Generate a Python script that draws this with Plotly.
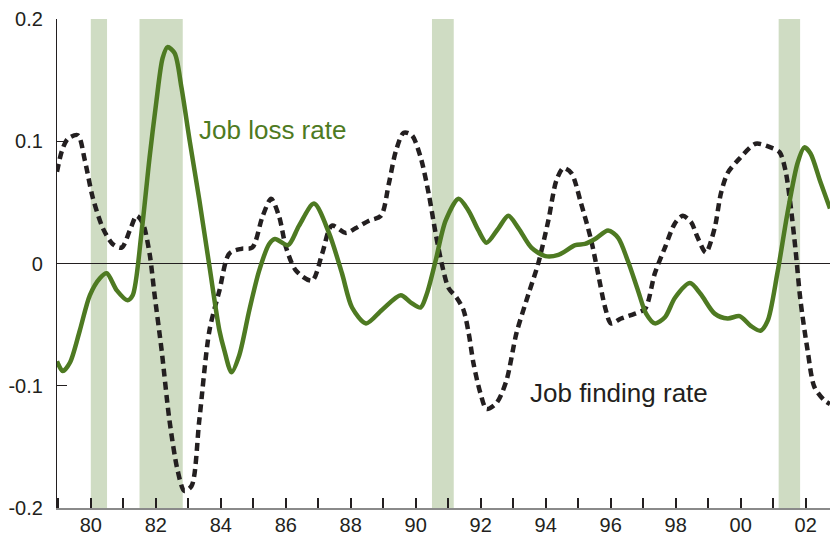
import plotly.graph_objects as go

# Job loss rate (green, solid)
loss_years = [1978.96, 1979.14, 1979.36, 1979.66, 1979.97, 1980.28, 1980.49, 1980.80, 1981.13, 1981.29,
              1981.56, 1981.81, 1982.02, 1982.21, 1982.36, 1982.58, 1982.79, 1983.04, 1983.34, 1983.65,
              1983.96, 1984.11, 1984.33, 1984.57, 1984.88, 1985.18, 1985.49, 1985.67, 1986.07, 1986.41,
              1986.87, 1987.33, 1987.73, 1988.04, 1988.47, 1988.96, 1989.54, 1989.85, 1990.15, 1990.34,
              1990.61, 1990.92, 1991.32, 1991.63, 1991.93, 1992.18, 1992.55, 1992.85, 1993.16, 1993.56,
              1993.99, 1994.39, 1994.91, 1995.21, 1995.52, 1995.92, 1996.23, 1996.53, 1996.84, 1997.09,
              1997.36, 1997.67, 1997.98, 1998.44, 1998.77, 1999.20, 1999.60, 1999.97, 2000.31, 2000.61,
              2000.83, 2001.13, 2001.44, 2001.75, 2001.96, 2002.15, 2002.45, 2002.75]
loss_values = [-0.080, -0.088, -0.081, -0.055, -0.026, -0.012, -0.008, -0.022, -0.030, -0.026,
               0.025, 0.087, 0.133, 0.168, 0.177, 0.172, 0.144, 0.101, 0.052, -0.002,
               -0.055, -0.071, -0.089, -0.075, -0.038, -0.006, 0.016, 0.020, 0.015, 0.031,
               0.049, 0.025, -0.008, -0.036, -0.049, -0.038, -0.026, -0.032, -0.036, -0.025,
               0.002, 0.035, 0.053, 0.043, 0.027, 0.017, 0.029, 0.039, 0.029, 0.013,
               0.006, 0.007, 0.015, 0.016, 0.020, 0.027, 0.021, 0.002, -0.022, -0.041,
               -0.049, -0.044, -0.028, -0.016, -0.025, -0.041, -0.045, -0.043, -0.051, -0.055,
               -0.047, -0.008, 0.041, 0.082, 0.095, 0.090, 0.067, 0.045]

# Job finding rate (black, dashed)
find_years = [1978.96, 1979.11, 1979.29, 1979.60, 1979.82, 1980.06, 1980.37, 1980.67, 1980.95, 1981.20,
              1981.41, 1981.60, 1981.81, 1981.96, 1982.18, 1982.42, 1982.67, 1982.88, 1983.10, 1983.34,
              1983.65, 1983.96, 1984.26, 1984.63, 1984.97, 1985.28, 1985.55, 1985.80, 1986.01, 1986.32,
              1986.81, 1987.12, 1987.42, 1987.85, 1988.16, 1988.56, 1988.93, 1989.17, 1989.39, 1989.63,
              1989.88, 1990.15, 1990.40, 1990.61, 1990.80, 1991.01, 1991.26, 1991.47, 1991.63, 1991.78,
              1991.99, 1992.18, 1992.49, 1992.79, 1993.10, 1993.47, 1993.77, 1994.08, 1994.33, 1994.54,
              1994.79, 1995.09, 1995.40, 1995.61, 1995.83, 1996.01, 1996.32, 1996.75, 1997.06, 1997.36,
              1997.67, 1997.98, 1998.22, 1998.47, 1998.68, 1998.93, 1999.20, 1999.39, 1999.60, 1999.97,
              2000.46, 2000.92, 2001.20, 2001.38, 2001.53, 2001.69, 2001.84, 2002.06, 2002.27, 2002.58,
              2002.75]
find_values = [0.075, 0.092, 0.102, 0.105, 0.084, 0.054, 0.029, 0.016, 0.013, 0.027,
               0.039, 0.033, 0.008, -0.025, -0.071, -0.128, -0.169, -0.186, -0.182, -0.128,
               -0.055, -0.022, 0.008, 0.012, 0.013, 0.038, 0.053, 0.038, 0.013, -0.006,
               -0.014, 0.008, 0.031, 0.025, 0.029, 0.035, 0.039, 0.065, 0.092, 0.107,
               0.105, 0.087, 0.057, 0.025, 0.000, -0.020, -0.028, -0.038, -0.057, -0.082,
               -0.106, -0.119, -0.114, -0.096, -0.057, -0.025, 0.000, 0.035, 0.068, 0.078,
               0.074, 0.049, 0.019, -0.008, -0.036, -0.049, -0.045, -0.041, -0.037, -0.008,
               0.013, 0.033, 0.039, 0.034, 0.021, 0.009, 0.029, 0.057, 0.074, 0.086,
               0.098, 0.095, 0.091, 0.076, 0.049, 0.011, -0.030, -0.071, -0.101, -0.112,
               -0.115]

# Recessions (start, end)
rec_start = [1980.0, 1981.5, 1990.5, 2001.17]
rec_end = [1980.5, 1982.83, 1991.17, 2001.83]

tick_years = [1980, 1982, 1984, 1986, 1988, 1990, 1992, 1994, 1996, 1998, 2000, 2002]
tick_labels = ["80", "82", "84", "86", "88", "90", "92", "94", "96", "98", "00", "02"]
y_ticks = [-0.2, -0.1, 0, 0.1, 0.2]
y_labels = ["-0.2", "-0.1", "0", "0.1", "0.2"]

GREEN = "#4e7a22"
SHADE = "#cfdcc3"
INK = "#231f20"
FONT = "Liberation Sans, Arial, sans-serif"

fig = go.Figure()
fig.add_trace(go.Scatter(x=find_years, y=find_values, mode="lines",
                         line=dict(color=INK, width=4.5, dash="8px,5px", shape="spline", smoothing=0.8),
                         showlegend=False, hoverinfo="skip"))
fig.add_trace(go.Scatter(x=loss_years, y=loss_values, mode="lines",
                         line=dict(color=GREEN, width=4.5, shape="spline", smoothing=0.8),
                         showlegend=False, hoverinfo="skip"))

shapes = []
for s, e in zip(rec_start, rec_end):
    shapes.append(dict(type="rect", xref="x", yref="paper", x0=s, x1=e, y0=0, y1=1,
                       fillcolor=SHADE, line=dict(width=0), layer="below"))

fig.update_layout(
    width=830, height=540,
    margin=dict(l=57, r=0, t=19, b=32, autoexpand=False),
    paper_bgcolor="white", plot_bgcolor="white",
    font=dict(family=FONT, size=20, color=INK),
    shapes=shapes,
    annotations=[
        dict(x=1983.28, y=0.109, xref="x", yref="y", text="Job loss rate", showarrow=False,
             xanchor="left", yanchor="middle", font=dict(size=26, color=GREEN, family=FONT)),
        dict(x=1993.47, y=-0.106, xref="x", yref="y", text="Job finding rate", showarrow=False,
             xanchor="left", yanchor="middle", font=dict(size=26, color=INK, family=FONT)),
    ],
)

fig.update_xaxes(range=[1978.96, 2002.75], tickmode="array", tickvals=tick_years, ticktext=tick_labels,
                 ticks="inside", ticklen=10, tickwidth=2, tickcolor=INK,
                 minor=dict(dtick=1, tick0=1979, ticks="inside", ticklen=10, tickwidth=1.5, tickcolor=INK),
                 showline=True, linecolor="#8a8a8a", linewidth=2, showgrid=False, zeroline=False,
                 ticklabelstandoff=-2, automargin=False)
fig.update_yaxes(range=[-0.2, 0.2], tickmode="array", tickvals=y_ticks, ticktext=y_labels,
                 ticks="inside", ticklen=10, tickwidth=1.2, tickcolor=INK,
                 showline=True, linecolor=INK, linewidth=1.2, showgrid=False,
                 zeroline=True, zerolinecolor=INK, zerolinewidth=1, ticklabelstandoff=9,
                 automargin=False)

fig.write_html("out.html", config={"displayModeBar": False},
               post_script="document.body.style.margin='0';document.body.style.padding='0';"
                           "document.body.style.overflow='hidden';")
